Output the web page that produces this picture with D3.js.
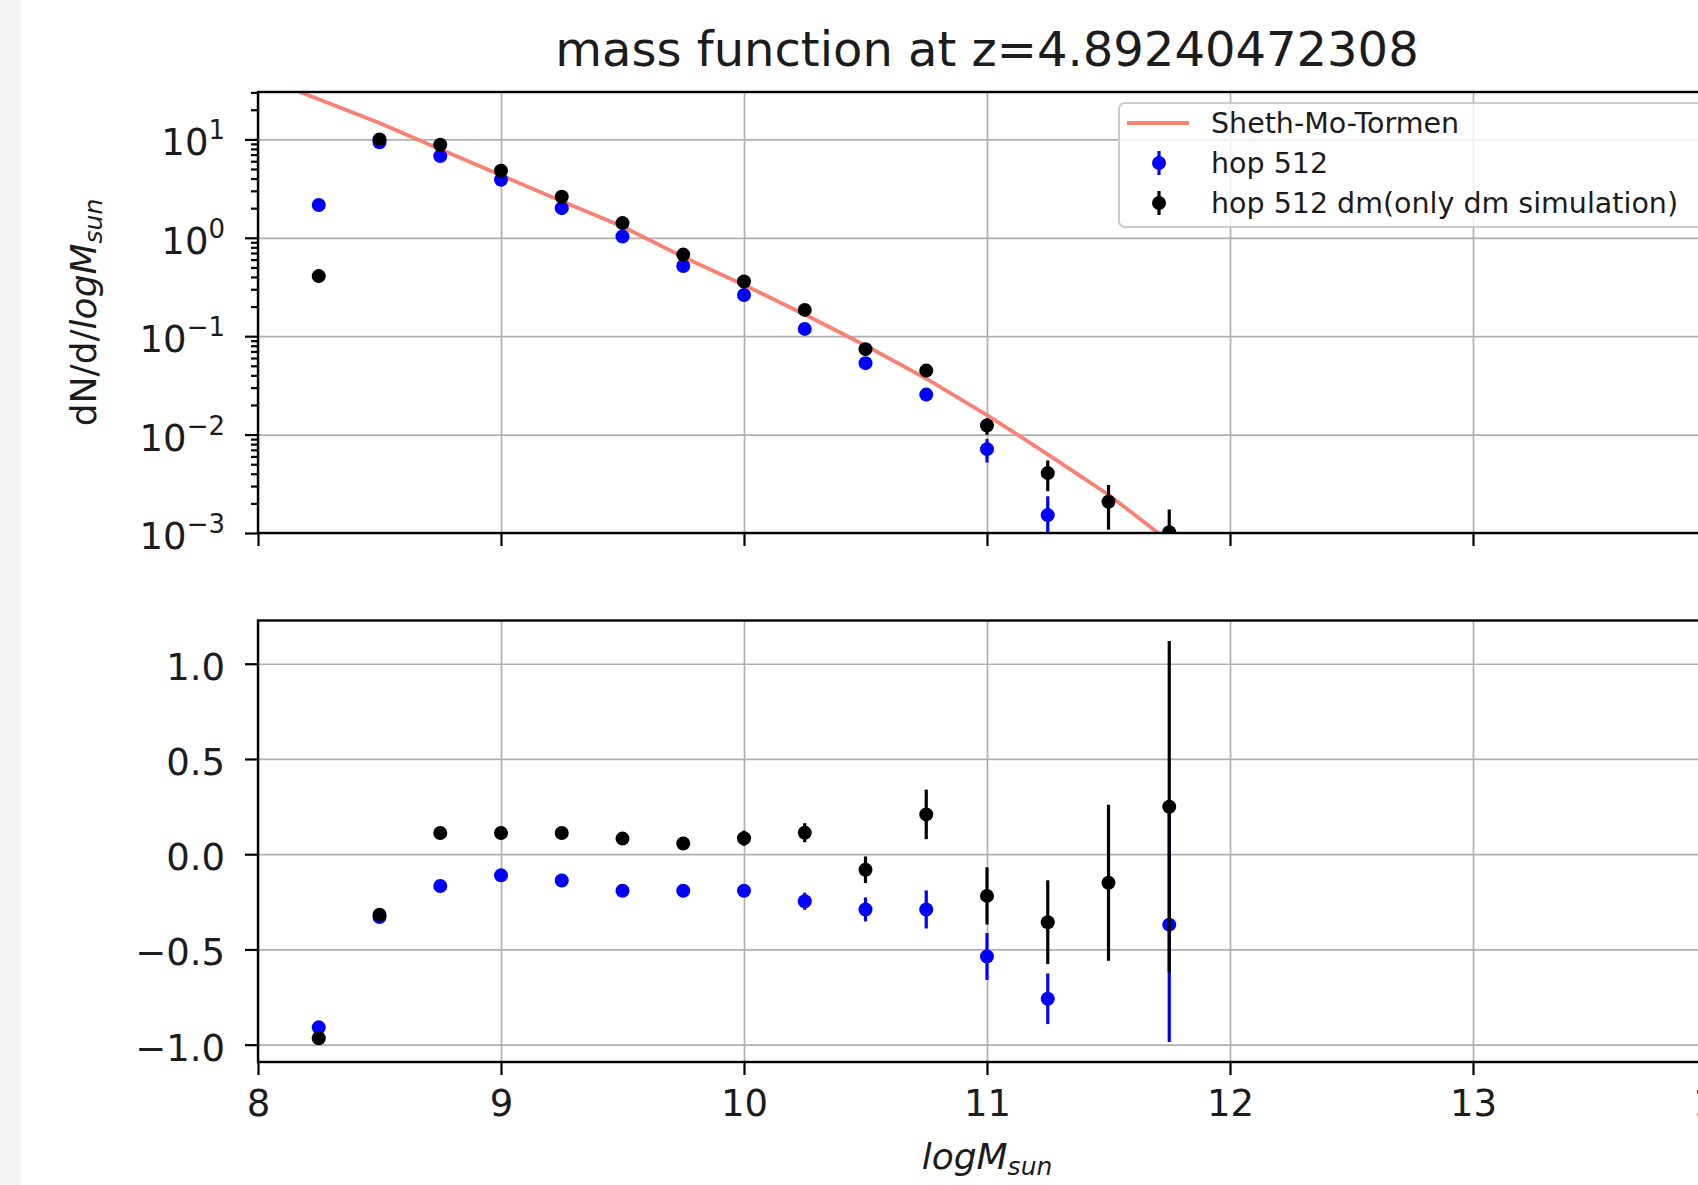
<!DOCTYPE html>
<html lang="en">
<head>
<meta charset="utf-8">
<title>mass function at z=4.89240472308</title>
<script src="https://d3js.org/d3.v7.min.js"></script>
<style>
  body { margin: 0; background: #fff; }
  svg { display: block; font-family: 'DejaVu Sans', sans-serif; }
  .grid line { stroke: #b0b0b0; stroke-width: 1.7px; }
  .grid path, .axis path { display: none; }
  .axis line { stroke: #000; stroke-width: 2.2px; }
  .axis text { fill: #1c1c1c; font-size: 37px; font-family: 'DejaVu Sans', sans-serif; }
  .label { fill: #1c1c1c; font-size: 36px; }
  .legend text { fill: #1c1c1c; font-size: 28.5px; }
</style>
</head>
<body>
<div id="chart"></div>
<script>
// bin centres (log M_sun)
var massBins = [8.25, 8.5, 8.75, 9.0, 9.25, 9.5, 9.75, 10.0, 10.25, 10.5, 10.75, 11.0, 11.25, 11.5, 11.75];

// Sheth-Mo-Tormen curve
var smtMass   = [8.0, 8.25, 8.5, 8.75, 9.0, 9.25, 9.5, 9.75, 10.0, 10.25, 10.5, 10.75, 11.0, 11.25, 11.5, 11.75, 12.0];
var smtValues = [44, 25.6, 14.7, 7.95, 4.32, 2.35, 1.30, 0.639, 0.332, 0.166, 0.0804, 0.037, 0.0158, 0.0063, 0.00245, 0.00082, 0.00024];

// hop 512 (blue)
var hopValues = [2.15, 9.35, 6.76, 3.89, 2.0, 1.03, 0.516, 0.262, 0.1186, 0.0532, 0.0255, 0.00711, 0.00152, null, 0.0005];
var hopErrors = [0.04, 0.1, 0.12, 0.07, 0.04, 0.025, 0.013, 0.009, 0.0075, 0.005, 0.0037, 0.0019, 0.00084, null, 0.0005];
var hopResid    = [-0.909, -0.33, -0.167, -0.111, -0.138, -0.192, -0.192, -0.192, -0.247, -0.29, -0.29, -0.537, -0.759, null, -0.37];
var hopResidErr = [0.01, 0.01, 0.015, 0.015, 0.02, 0.02, 0.025, 0.03, 0.045, 0.063, 0.1, 0.123, 0.133, null, 0.616];

// hop 512 dm (black)
var dmValues = [0.408, 10.0, 8.83, 4.80, 2.61, 1.41, 0.675, 0.36, 0.185, 0.0738, 0.0447, 0.01236, 0.00406, 0.00208, 0.00102];
var dmErrors = [0.003, 0.1, 0.12, 0.08, 0.05, 0.03, 0.016, 0.01, 0.008, 0.0056, 0.0048, 0.0024, 0.0014, 0.001, 0.00071];
var dmResid    = [-0.966, -0.318, 0.111, 0.111, 0.111, 0.082, 0.056, 0.084, 0.113, -0.082, 0.209, -0.219, -0.357, -0.150, 0.249];
var dmResidErr = [0.005, 0.01, 0.015, 0.015, 0.02, 0.02, 0.025, 0.04, 0.05, 0.07, 0.13, 0.15, 0.22, 0.41, 0.87];

// ticks
var xTicks = [8, 9, 10, 11, 12, 13, 14];
var logTicks = [1e-3, 1e-2, 1e-1, 1e0, 1e1];
var residTicks = [-1.0, -0.5, 0.0, 0.5, 1.0];

var W = 1698, H = 1185;
var left = 258, right = 1716;
var top1 = 92, bot1 = 533;
var top2 = 620.5, bot2 = 1062;

var x = d3.scaleLinear().domain([8, 14]).range([left, right]);
var yTop = d3.scaleLog().domain([1e-3, 30.3]).range([bot1, top1]);
var yRes = d3.scaleLinear().domain([-1.091, 1.227]).range([bot2, top2]);

var minorTicks = [];
[-3, -2, -1, 0, 1].forEach(function(e) {
  for (var k = 2; k <= 9; k++) {
    var v = k * Math.pow(10, e);
    if (v <= 30.3) minorTicks.push(v);
  }
});

var svg = d3.select('#chart').append('svg')
  .attr('width', W)
  .attr('height', H);

svg.append('rect').attr('width', W).attr('height', H).attr('fill', '#fff');
svg.append('rect').attr('width', 21).attr('height', H).attr('fill', '#f4f4f4');

var defs = svg.append('defs');
defs.append('clipPath').attr('id', 'clipTop')
  .append('rect').attr('x', left).attr('y', top1).attr('width', right - left).attr('height', bot1 - top1);
defs.append('clipPath').attr('id', 'clipBot')
  .append('rect').attr('x', left).attr('y', top2).attr('width', right - left).attr('height', bot2 - top2);

// title
svg.append('text')
  .attr('x', (left + right) / 2)
  .attr('y', 66)
  .attr('text-anchor', 'middle')
  .attr('fill', '#1c1c1c')
  .style('font-size', '48px')
  .text('mass function at z=4.89240472308');

// ---------- grids ----------
var drawGrid = function(yScale, yTickValues, yTopPx, yBotPx) {
  var g = svg.append('g').attr('class', 'grid');
  g.append('g')
    .attr('transform', 'translate(0,' + yBotPx + ')')
    .call(d3.axisBottom(x).tickValues(xTicks).tickSize(-(yBotPx - yTopPx)).tickFormat(''));
  g.append('g')
    .attr('transform', 'translate(' + left + ',0)')
    .call(d3.axisLeft(yScale).tickValues(yTickValues).tickSize(-(right - left)).tickFormat(''));
};

drawGrid(yTop, logTicks, top1, bot1);
drawGrid(yRes, residTicks, top2, bot2);

// ---------- top panel data ----------
var topData = svg.append('g').attr('clip-path', 'url(#clipTop)');

var smtLine = d3.line()
  .x(function(d, i) { return x(smtMass[i]); })
  .y(function(d) { return yTop(d); });

topData.append('path')
  .datum(smtValues)
  .attr('d', smtLine)
  .attr('fill', 'none')
  .attr('stroke', 'salmon')
  .attr('stroke-width', 3.8);

var drawSeries = function(parent, values, errors, yScale, color, isLog) {
  var pts = massBins.map(function(m, i) {
    return { m: m, v: values[i], e: errors[i] };
  }).filter(function(d) { return d.v !== null; });

  parent.selectAll(null)
    .data(pts)
    .enter()
    .append('line')
    .attr('x1', function(d) { return x(d.m); })
    .attr('x2', function(d) { return x(d.m); })
    .attr('y1', function(d) {
      var lo = d.v - d.e;
      if (isLog && lo <= 0) lo = 1e-5;
      return yScale(lo);
    })
    .attr('y2', function(d) { return yScale(d.v + d.e); })
    .attr('stroke', color)
    .attr('stroke-width', 3.2);

  parent.selectAll(null)
    .data(pts)
    .enter()
    .append('circle')
    .attr('cx', function(d) { return x(d.m); })
    .attr('cy', function(d) { return yScale(d.v); })
    .attr('r', 7)
    .attr('fill', color);
};

drawSeries(topData, hopValues, hopErrors, yTop, '#0000ff', true);
drawSeries(topData, dmValues, dmErrors, yTop, '#000000', true);

// ---------- bottom panel data ----------
var botData = svg.append('g').attr('clip-path', 'url(#clipBot)');
drawSeries(botData, hopResid, hopResidErr, yRes, '#0000ff', false);
drawSeries(botData, dmResid, dmResidErr, yRes, '#000000', false);

// ---------- spines ----------
[[top1, bot1], [top2, bot2]].forEach(function(p) {
  svg.append('rect')
    .attr('x', left).attr('y', p[0])
    .attr('width', right - left).attr('height', p[1] - p[0])
    .attr('fill', 'none')
    .attr('stroke', '#000')
    .attr('stroke-width', 2.4);
});

// ---------- axes ----------
// top panel x ticks, no labels
svg.append('g').attr('class', 'axis')
  .attr('transform', 'translate(0,' + bot1 + ')')
  .call(d3.axisBottom(x).tickValues(xTicks).tickSize(13).tickFormat(''));

// top panel log y, minor
svg.append('g').attr('class', 'axis')
  .attr('transform', 'translate(' + left + ',0)')
  .call(d3.axisLeft(yTop).tickValues(minorTicks).tickSize(7).tickFormat(''));

// top panel log y, major with 10^n labels
var yTopAxis = svg.append('g').attr('class', 'axis')
  .attr('transform', 'translate(' + left + ',0)')
  .call(d3.axisLeft(yTop).tickValues(logTicks).tickSize(13).tickPadding(20).tickFormat(''));

yTopAxis.selectAll('.tick text')
  .attr('dy', '0.42em')
  .each(function(d) {
    var t = d3.select(this);
    var ex = String(Math.round(Math.log10(d))).replace('-', '\u2212');
    t.append('tspan').text('10');
    t.append('tspan')
      .attr('dy', '-0.62em')
      .style('font-size', '26px')
      .text(ex);
  });

// bottom panel y
svg.append('g').attr('class', 'axis')
  .attr('transform', 'translate(' + left + ',0)')
  .call(d3.axisLeft(yRes).tickValues(residTicks).tickSize(13).tickPadding(20).tickFormat(d3.format('.1f')))
  .selectAll('.tick text')
  .attr('dy', '0.42em');

// bottom panel x
svg.append('g').attr('class', 'axis')
  .attr('transform', 'translate(0,' + bot2 + ')')
  .call(d3.axisBottom(x).tickValues(xTicks).tickSize(13).tickPadding(15).tickFormat(d3.format('d')));

// ---------- axis labels ----------
var yLabel = svg.append('text')
  .attr('class', 'label')
  .attr('transform', 'translate(96,' + (top1 + bot1) / 2 + ') rotate(-90)')
  .attr('text-anchor', 'middle');
yLabel.append('tspan').text('dN/d/');
yLabel.append('tspan').style('font-style', 'italic').text('logM');
yLabel.append('tspan').style('font-style', 'italic').style('font-size', '25px').attr('dy', '0.22em').text('sun');

var xLabel = svg.append('text')
  .attr('class', 'label')
  .attr('x', (left + right) / 2)
  .attr('y', 1169)
  .attr('text-anchor', 'middle');
xLabel.append('tspan').style('font-style', 'italic').text('logM');
xLabel.append('tspan').style('font-style', 'italic').style('font-size', '25px').attr('dy', '0.22em').text('sun');

// ---------- legend ----------
var legend = svg.append('g').attr('class', 'legend');

legend.append('rect')
  .attr('x', 1119).attr('y', 103)
  .attr('width', 660).attr('height', 124)
  .attr('rx', 6)
  .attr('fill', '#fff')
  .attr('fill-opacity', 0.8)
  .attr('stroke', '#cccccc')
  .attr('stroke-width', 2);

var legendItems = [
  { label: 'Sheth-Mo-Tormen', color: 'salmon', type: 'line' },
  { label: 'hop 512', color: '#0000ff', type: 'err' },
  { label: 'hop 512 dm(only dm simulation)', color: '#000000', type: 'err' }
];

legendItems.forEach(function(item, i) {
  var cy = 123 + i * 40;
  if (item.type === 'line') {
    legend.append('line')
      .attr('x1', 1127).attr('x2', 1189)
      .attr('y1', cy).attr('y2', cy)
      .attr('stroke', item.color)
      .attr('stroke-width', 3.8);
  } else {
    legend.append('line')
      .attr('x1', 1159).attr('x2', 1159)
      .attr('y1', cy - 12).attr('y2', cy + 12)
      .attr('stroke', item.color)
      .attr('stroke-width', 3.2);
    legend.append('circle')
      .attr('cx', 1159).attr('cy', cy)
      .attr('r', 7)
      .attr('fill', item.color);
  }
  legend.append('text')
    .attr('x', 1211)
    .attr('y', cy)
    .attr('dy', '0.36em')
    .text(item.label);
});
</script>
</body>
</html>
